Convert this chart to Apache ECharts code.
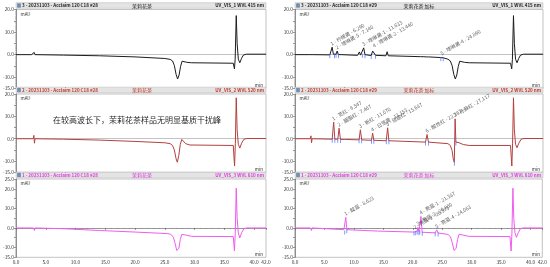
<!DOCTYPE html>
<html><head><meta charset="utf-8">
<script src="https://cdn.jsdelivr.net/npm/echarts@6/dist/echarts.min.js"></script>
<style>html,body{margin:0;padding:0;background:#fff}#c{width:550px;height:267px}</style>
</head><body><div id="c"></div>
<script>
// ================= DATA =================
const timeRange = [0, 42];
const yRange415 = [-15, 20];
const yRange520 = [-15, 20];
const yRange610 = [-15, 25];

// [time (min), signal (mAU)]
const trace415Sample = [[0,0],[2.2,0],[2.4,0.5],[2.6,0],[2.9,0.1],[3.05,1.0],[3.2,0],[8,-0.2],[14,-0.5],[20,-1.0],[25,-1.7],[25.9,-2.1],[26.3,-2.8],[26.6,-4.8],[26.9,-8.8],[27.15,-10.8],[27.4,-9.0],[27.65,-5.2],[27.9,-2.9],[28.2,-2.7],[28.7,-3.4],[29.5,-3.6],[36.5,-3.8],[36.7,-6.3],[36.82,-2],[37.0,17.3],[37.15,5],[37.35,-2.0],[37.6,-3.6],[37.9,-1.6],[38.2,-0.2],[38.7,0.2],[42,0.2]];
const trace415Spiked = [[0,0],[2.5,0],[2.7,0.7],[2.9,0],[5.9,-0.1],[6.1,0.5],[6.29,3.3],[6.5,0.2],[6.7,-0.1],[6.95,0.2],[7.14,1.6],[7.35,0],[7.8,0],[7.9,0.3],[8.0,-0.1],[10.6,-0.3],[10.9,1.2],[11.1,-0.2],[11.4,0.2],[11.633,3.0],[11.85,0],[12.9,-0.4],[13.15,1.6],[13.3,0.8],[13.44,2.4],[13.65,-0.3],[15.4,-0.5],[15.6,1.3],[15.8,-0.5],[21.3,-0.9],[21.5,-0.2],[21.7,-0.9],[22.2,-1.0],[22.4,-0.4],[22.6,-1.0],[24.7,-1.3],[24.89,-1.0],[25.1,-1.4],[25.9,-2.0],[26.3,-2.8],[26.6,-4.8],[26.9,-8.8],[27.15,-10.8],[27.4,-9.0],[27.65,-5.2],[27.9,-2.9],[28.2,-2.7],[28.7,-3.4],[29.5,-3.6],[36.5,-3.8],[36.7,-6.3],[36.82,-2],[37.0,17.3],[37.15,5],[37.35,-2.0],[37.6,-3.6],[37.9,-1.6],[38.2,-0.2],[38.7,0.2],[42,0.2]];
const trace520Sample = [[0,0],[2.9,0],[3.0,1.5],[3.1,-2.0],[3.2,0],[8,-0.2],[14,-0.6],[20,-1.2],[25,-1.8],[25.9,-2.2],[26.3,-3.0],[26.6,-5.0],[26.9,-9.0],[27.1,-10.5],[27.35,-7.5],[27.6,-2.5],[27.85,-0.3],[28.1,-0.8],[28.5,-2.2],[29.2,-2.8],[36.5,-3.0],[36.72,-12.2],[36.85,-2],[37.0,18.3],[37.15,4],[37.35,-2.5],[37.6,-4.2],[37.9,-2.0],[38.3,-0.2],[38.8,0.1],[42,0.1]];
const trace520Spiked = [[0,0],[2.6,0],[2.7,1.3],[2.8,-1.8],[2.9,0],[6.3,-0.2],[6.547,7.4],[6.75,-0.2],[7.25,-0.2],[7.467,4.7],[7.7,-0.3],[8.5,-0.3],[8.6,0.3],[8.7,-0.3],[10.85,-0.5],[11.07,4.0],[11.3,-0.5],[12.95,-0.7],[13.153,2.5],[13.35,-0.7],[15.45,-0.9],[15.687,4.9],[15.9,-0.9],[22.1,-1.5],[22.367,1.9],[22.6,-1.5],[25.9,-2.2],[26.3,-3.0],[26.6,-5.2],[26.8,-9.0],[26.98,-10.5],[27.117,8.9],[27.25,-1.5],[27.45,-1.2],[27.8,-1.8],[28.5,-2.6],[29.5,-3.0],[36.5,-3.0],[36.72,-12.2],[36.85,-2],[37.0,18.3],[37.15,4],[37.35,-2.5],[37.6,-4.0],[37.9,-2.0],[38.3,-0.2],[38.8,0.1],[42,0.1]];
const trace610Sample = [[0,0],[2.9,0],[3.0,0.8],[3.1,-1.3],[3.2,0],[8,-0.4],[14,-1.3],[20,-2.1],[25.5,-2.9],[26.0,-3.3],[26.4,-4.5],[26.7,-7.5],[27.0,-11.5],[27.15,-12.3],[27.35,-10.5],[27.6,-6],[27.85,-3.3],[28.1,-3.0],[28.5,-3.6],[29.5,-4.3],[36.5,-4.4],[36.7,-11.8],[36.83,-3],[37.0,20.3],[37.15,5],[37.35,-2.5],[37.6,-5.1],[37.9,-2.5],[38.3,-0.3],[38.8,0],[42,0]];
const trace610Spiked = [[0,0],[2.6,0],[2.7,0.8],[2.8,-1.3],[2.9,0],[8.3,-0.9],[8.45,-1.6],[8.623,5.4],[8.8,-0.9],[9.0,-1.0],[14,-1.6],[20.2,-2.1],[20.373,-1.4],[20.5,-2.0],[20.75,-1.6],[20.88,0.3],[21.05,-1.9],[21.2,-1.5],[21.387,5.9],[21.6,-2.2],[23.8,-2.5],[24.063,-1.0],[24.3,-2.6],[26.0,-3.3],[26.4,-4.5],[26.7,-7.5],[27.0,-11.5],[27.15,-12.3],[27.35,-10.5],[27.6,-6],[27.85,-3.3],[28.1,-3.0],[28.5,-3.6],[29.5,-4.3],[36.5,-4.4],[36.7,-11.8],[36.83,-3],[37.0,20.3],[37.15,5],[37.35,-2.5],[37.6,-4.8],[37.9,-2.5],[38.3,-0.3],[38.8,0],[42,0]];

// identified peaks (spiked sample)
const peakNames415 = ['柠檬黄','喹啉黄-5','喹啉黄-1','喹啉黄-2','喹啉黄-4'];
const peakTimes415 = [6.290, 7.140, 11.633, 13.440, 24.890];
const peakNames520 = ['苋红','胭脂红','新红','日落黄','诱惑红','酸性红','赤藓红'];
const peakTimes520 = [6.547, 7.467, 11.070, 13.153, 15.687, 22.367, 27.117];
const peakNames610 = ['靛蓝','亮蓝-2','亮蓝-3','亮蓝-1','亮蓝-4'];
const peakTimes610 = [8.623, 20.373, 20.880, 21.387, 24.063];

// peak start / end delimiter times (must be times present in the trace)
const bounds415 = [5.9,6.7,6.95,7.35,11.4,11.85,12.9,13.65,24.7,25.1];
const bounds520 = [6.3,6.75,7.25,7.7,10.85,11.3,12.95,13.35,15.45,15.9,22.1,22.6,26.98,27.25];
const bounds610 = [8.45,8.8,20.2,20.5,20.75,21.05,21.2,21.6,23.8,24.3];

const headerLeft = ['3 - 20231103 - Acclaim 120 C18 #28','3 - 20231103 - Acclaim 120 C18 #29',
                    '2 - 20231103 - Acclaim 120 C18 #28','2 - 20231103 - Acclaim 120 C18 #29',
                    '1 - 20231103 - Acclaim 120 C18 #28','1 - 20231103 - Acclaim 120 C18 #29'];
const headerMid = ['茉莉花茶','茉莉花茶 加标','茉莉花茶','茉莉花茶 加标','茉莉花茶','茉莉花茶 加标'];
const headerRight = ['UV_VIS_1 WVL 415 nm','UV_VIS_1 WVL 415 nm','UV_VIS_2 WVL 520 nm','UV_VIS_2 WVL 520 nm','UV_VIS_3 WVL 610 nm','UV_VIS_3 WVL 610 nm'];
const noteText = '在较高波长下，茉莉花茶样品无明显基质干扰峰';

// ================= CHART =================
const FONT = '"Noto Sans CJK SC", "Noto Sans", sans-serif';
const traces = [trace415Sample, trace415Spiked, trace520Sample, trace520Spiked, trace610Sample, trace610Spiked];
const yRanges = [yRange415, yRange415, yRange520, yRange520, yRange610, yRange610];
const colors = ['#1c1c1c','#1c1c1c','#b4403f','#b4403f','#f05cf0','#f05cf0'];
const headColors = ['#222','#222','#c0392b','#c0392b','#e23be2','#e23be2'];
const colLeft = [16, 295], colWidth = [250, 248];
const rowTop = [9.5, 94, 179], rowHeight = [79, 78.3, 78.3];

const grids = [], xAxes = [], yAxes = [], series = [], graphics = [];
for (let i = 0; i < 6; i++) {
  const r = Math.floor(i / 2), c = i % 2;
  const g = {left: colLeft[c], top: rowTop[r], width: colWidth[c], height: rowHeight[r],
             show: true, borderColor: '#9a9a9a', borderWidth: 0.6, backgroundColor: '#fff'};
  grids.push(g);
  const isBottom = r === 2;
  xAxes.push({type:'value', gridIndex:i, min:timeRange[0], max:timeRange[1], interval:5,
    axisLine:{show:true, lineStyle:{color: isBottom ? '#555' : '#9a9a9a', width:0.6}},
    axisTick:{show:isBottom, length:2, lineStyle:{color:'#555', width:0.6}},
    minorTick:{show:isBottom, splitNumber:5, length:1, lineStyle:{color:'#777', width:0.5}},
    splitLine:{show:false},
    axisLabel:{show:isBottom, fontSize:4.8, color:'#333', margin:2.5, fontFamily:FONT,
      formatter: v => v.toFixed(1)}});
  const yr = yRanges[i];
  yAxes.push({type:'value', gridIndex:i, min:yr[0], max:yr[1], interval:5,
    axisLine:{show:true, lineStyle:{color:'#555', width:0.6}},
    axisTick:{show:true, length:2, lineStyle:{color:'#555', width:0.6}},
    minorTick:{show:true, splitNumber:5, length:1, lineStyle:{color:'#777', width:0.4}},
    splitLine:{show:false},
    axisLabel:{fontSize:4.8, margin:2, fontFamily:FONT,
      color: (v) => (v === yr[1] && r > 0) ? headColors[i] : '#333',
      formatter: v => (v % 10 === 0 || v === yr[0] || v === yr[1]) ? v.toFixed(1) : ''}});
  series.push({type:'line', xAxisIndex:i, yAxisIndex:i, data:traces[i], showSymbol:false,
    symbol:'none', animation:false, lineStyle:{color:colors[i], width:1}, z:3});

  // header bar
  const bx = colLeft[c], bw = colWidth[c], by = rowTop[r] - 6.8;
  graphics.push({type:'rect', shape:{x:bx, y:by, width:bw, height:5.6},
    style:{fill:'#e4e4e4', stroke:'#b5b5b5', lineWidth:0.5}, z:10});
  graphics.push({type:'rect', shape:{x:bx+1.5, y:by+1, width:3, height:3.6},
    style:{fill:'#6b8fc9', stroke:'#345', lineWidth:0.3}, z:11});
  graphics.push({type:'text', x:bx+6, y:by+2.9, z:11,
    style:{text:headerLeft[i], font:'bold 4.5px ' + FONT, fill:headColors[i], textVerticalAlign:'middle'}});
  graphics.push({type:'text', x:bx+bw/2+ (c===0? 1 : 0), y:by+2.9, z:11,
    style:{text:headerMid[i], font:'5px ' + FONT, fill:headColors[i], textAlign:'center', textVerticalAlign:'middle'}});
  graphics.push({type:'text', x:bx+bw-2, y:by+2.9, z:11,
    style:{text:headerRight[i], font:'bold 4.5px ' + FONT, fill:headColors[i], textAlign:'right', textVerticalAlign:'middle'}});
  // units
  graphics.push({type:'text', x:bx+4.5, y:rowTop[r]+4.5, z:11,
    style:{text:'mAU', font:'4.5px ' + FONT, fill:'#333', textVerticalAlign:'middle'}});
  graphics.push({type:'text', x:bx+bw-3, y:rowTop[r]+rowHeight[r]-3.5, z:11,
    style:{text:'min', font:'4.5px ' + FONT, fill:'#333', textAlign:'right', textVerticalAlign:'middle'}});
}

function valueAt(trace, t) {
  const p = trace.find(d => Math.abs(d[0] - t) < 1e-9);
  return p ? p[1] : 0;
}
const peakSets = [[1, trace415Spiked, peakNames415, peakTimes415, bounds415],
                  [3, trace520Spiked, peakNames520, peakTimes520, bounds520],
                  [5, trace610Spiked, peakNames610, peakTimes610, bounds610]];
peakSets.forEach(([gi, tr, names, times, bounds]) => {
  series.push({type:'scatter', xAxisIndex:gi, yAxisIndex:gi, animation:false, z:5,
    symbol:'circle', symbolSize:1, itemStyle:{color:'rgba(0,0,0,0)'},
    data: times.map((t, k) => ({value:[t, valueAt(tr, t)], name: `${k+1} - ${names[k]} - ${t.toFixed(3)}`})),
    label:{show:true, formatter: p => p.name, rotate:30, position:[0.5,-0.5], align:'left',
      verticalAlign:'bottom', fontSize:5, color:'#333', fontFamily:FONT}});
  series.push({type:'scatter', xAxisIndex:gi, yAxisIndex:gi, animation:false, z:4,
    symbol:'rect', symbolSize:[0.8, 4], symbolOffset:[0, 1.5], itemStyle:{color:'#3b5cff'},
    data: bounds.map(t => [t, valueAt(tr, t)])});
});

graphics.push({type:'text', x:137, y:119.5, z:12,
  style:{text:noteText, font:'8px ' + FONT, fill:'#2a2a2a', textAlign:'center', textVerticalAlign:'middle'}});

const chart = echarts.init(document.getElementById('c'), null, {renderer:'canvas'});
chart.setOption({animation:false, backgroundColor:'#fff', grid:grids, xAxis:xAxes, yAxis:yAxes,
  series:series, graphic:{elements:graphics}});
</script></body></html>
